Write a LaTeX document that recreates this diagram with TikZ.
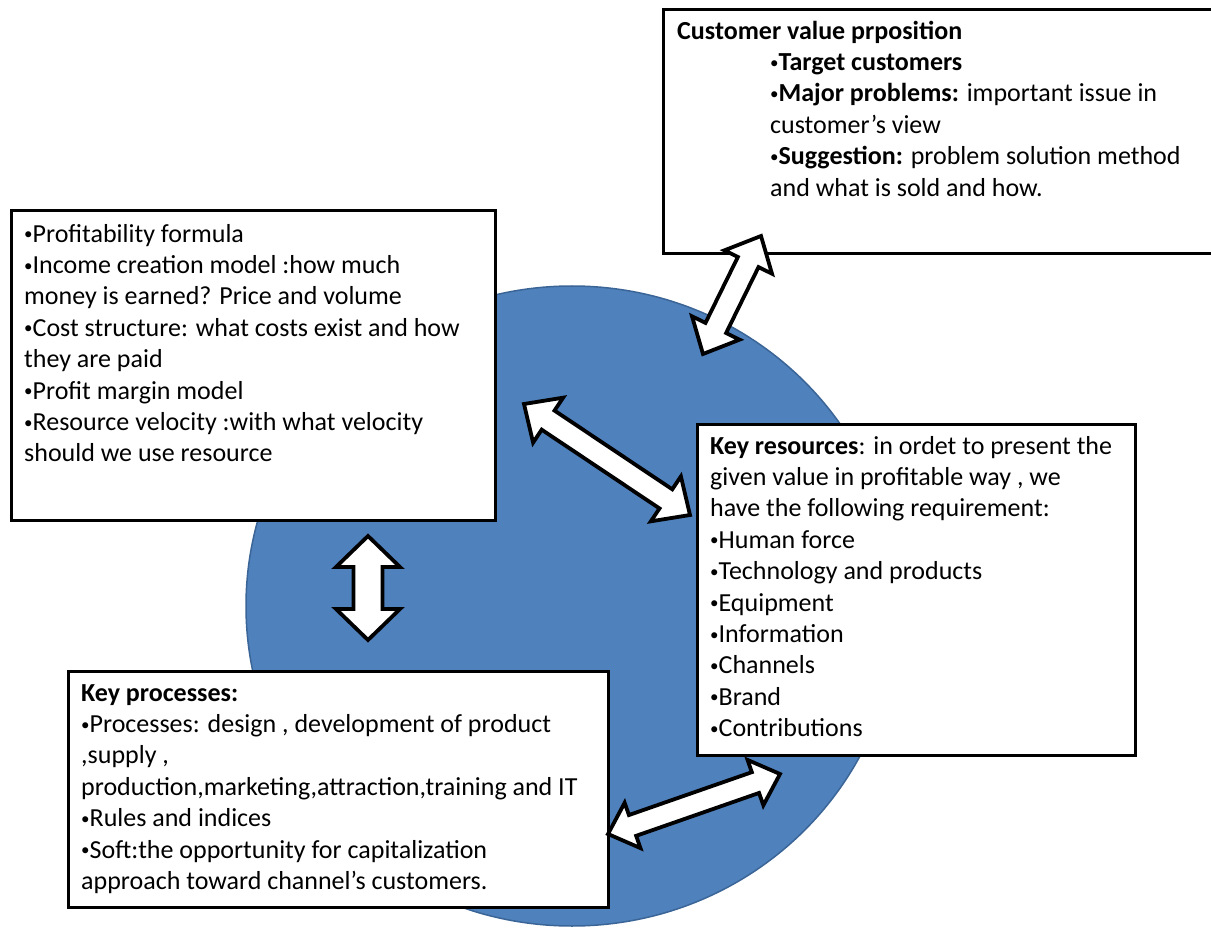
\documentclass[tikz,border=0pt]{standalone}
\usepackage{fontspec}
\setmainfont{Carlito}
\usetikzlibrary{calc}
\definecolor{circblue}{HTML}{4F81BD}
\definecolor{circedge}{HTML}{3B6596}
\tikzset{
  box/.style={draw=black, line width=2.6pt, fill=white, rectangle, inner sep=0pt, anchor=north west},
  boxtext/.style={anchor=north west, inner sep=0pt, align=left, font=\fontsize{26}{31.4}\selectfont},
  blockarrow/.style={draw=black, line width=3.8pt, fill=white, line join=miter},
}
\newcommand{\bul}{\raisebox{2.5pt}{\fontsize{17}{17}\selectfont •}}
\newcommand{\blockarr}[5]{%
  \draw[blockarrow] (#1)
   -- ($(#1)!#5!(#2)!#4!90:(#2)$)
   -- ($(#1)!#5!(#2)!#3!90:(#2)$)
   -- ($(#2)!#5!(#1)!#3!-90:(#1)$)
   -- ($(#2)!#5!(#1)!#4!-90:(#1)$)
   -- (#2)
   -- ($(#2)!#5!(#1)!#4!90:(#1)$)
   -- ($(#2)!#5!(#1)!#3!90:(#1)$)
   -- ($(#1)!#5!(#2)!#3!-90:(#2)$)
   -- ($(#1)!#5!(#2)!#4!-90:(#2)$)
   -- cycle;}
\begin{document}
\begin{tikzpicture}[x=1pt,y=-1pt]
\useasboundingbox (0,0) rectangle (1211,928);
% central disc
\fill[circblue] (572,606) ellipse [x radius=326, y radius=320];
\draw[circedge, line width=1.5pt] (572,606) ellipse [x radius=326, y radius=320];

% boxes
\node[box, minimum width=560pt, minimum height=244pt] (cvp) at (662,8) {};
\node[box, minimum width=484pt, minimum height=310pt] (profit) at (10,209) {};
\node[box, minimum width=438pt, minimum height=331pt] (res) at (696,423) {};
\node[box, minimum width=540pt, minimum height=236pt] (proc) at (67,670) {};

% texts
\node[boxtext] (cvptitle) at (677,17) {\strut\textbf{Customer value prposition}};
\node[boxtext] (cvptext) at (770,48.4) {\strut\bul\textbf{Target customers}\\
\bul\textbf{Major problems:} important issue in\\
customer’s view\\
\bul\textbf{Suggestion:} problem solution method\\
and what is sold and how.};

\node[boxtext] (profittext) at (24,220) {\strut\bul Profitability formula\\
\bul Income creation model :how much\\
money is earned? Price and volume\\
\bul Cost structure: what costs exist and how\\
they are paid\\
\bul Profit margin model\\
\bul Resource velocity :with what velocity\\
should we use resource};

\node[boxtext] (restext) at (710,432) {\strut\textbf{Key resources}: in ordet to present the\\
given value in profitable way , we\\
have the following requirement:\\
\bul Human force\\
\bul Technology and products\\
\bul Equipment\\
\bul Information\\
\bul Channels\\
\bul Brand\\
\bul Contributions};

\node[boxtext] (proctext) at (81,679) {\strut\textbf{Key processes:}\\
\bul Processes: design , development of product\\
,supply ,\\
production,marketing,attraction,training and IT\\
\bul Rules and indices\\
\bul Soft:the opportunity for capitalization\\
approach toward channel’s customers.};

% arrow end points
\coordinate (a1s) at (703,354);
\coordinate (a1e) at (761,236);
\coordinate (a2s) at (524,404);
\coordinate (a2e) at (690,515);
\coordinate (a3s) at (368,536);
\coordinate (a3e) at (368,640);
\coordinate (a4s) at (608,834);
\coordinate (a4e) at (780,774);

\blockarr{a1s}{a1e}{11.5pt}{26.5pt}{29pt}
\blockarr{a2s}{a2e}{11.5pt}{27pt}{29pt}
\blockarr{a3s}{a3e}{14.5pt}{32pt}{31pt}
\blockarr{a4s}{a4e}{11pt}{24pt}{26pt}
\end{tikzpicture}
\end{document}
